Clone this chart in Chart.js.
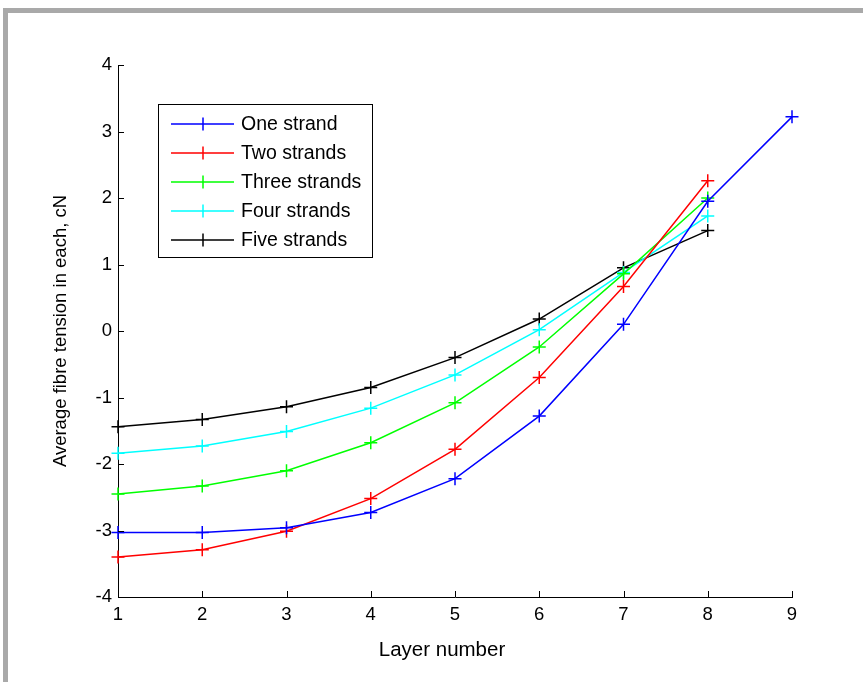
<!DOCTYPE html>
<html>
<head>
<meta charset="utf-8">
<script src="https://cdn.jsdelivr.net/npm/chart.js@4.4.1/dist/chart.umd.min.js"></script>
<style>
  html, body { margin: 0; padding: 0; background: #fff; }
  #frame {
    position: absolute; left: 3px; top: 8px; right: 0; bottom: 0;
    border-top: 5px solid #a9a9a9; border-left: 5px solid #a9a9a9;
  }
  #chart { position: absolute; left: 0; top: 0; }
</style>
</head>
<body>
<div id="frame"></div>
<canvas id="chart" width="863" height="682"></canvas>
<script>
// layer numbers
var layers = [1, 2, 3, 4, 5, 6, 7, 8, 9];

// average fibre tension per layer, cN
var oneStrand = [-3.03, -3.03, -2.96, -2.73, -2.22, -1.28, 0.1, 1.95, 3.22];
var twoStrands = [-3.4, -3.29, -3.01, -2.52, -1.78, -0.7, 0.67, 2.26];
var threeStrands = [-2.45, -2.33, -2.1, -1.68, -1.08, -0.24, 0.86, 2.0];
var fourStrands = [-1.84, -1.73, -1.51, -1.16, -0.66, 0.02, 0.88, 1.73];
var fiveStrands = [-1.44, -1.33, -1.14, -0.85, -0.4, 0.18, 0.95, 1.51];

var seriesNames = ["One strand", "Two strands", "Three strands", "Four strands", "Five strands"];
var seriesColors = ["#0000ff", "#ff0000", "#00ff00", "#00ffff", "#000000"];
var yTicks = [-4, -3, -2, -1, 0, 1, 2, 3, 4];

var FONT = "'Liberation Sans', Arial, sans-serif";

function toPoints(values) {
  return values.map(function (v, i) { return { x: layers[i], y: v }; });
}

var datasets = [oneStrand, twoStrands, threeStrands, fourStrands, fiveStrands].map(function (vals, i) {
  return {
    label: seriesNames[i],
    data: toPoints(vals),
    borderColor: seriesColors[i],
    backgroundColor: seriesColors[i],
    borderWidth: 1.5,
    pointStyle: "cross",
    pointRadius: 6.5,
    pointBorderWidth: 1.5,
    pointHoverRadius: 6.5,
    tension: 0,
    clip: false
  };
});

// inward tick marks on both axes, plus the x axis label
var innerTicks = {
  id: "innerTicks",
  afterDatasetsDraw: function (chart) {
    var ctx = chart.ctx, a = chart.chartArea;
    var xs = chart.scales.x, ys = chart.scales.y;
    ctx.save();
    ctx.strokeStyle = "#000";
    ctx.lineWidth = 1;
    ctx.beginPath();
    layers.forEach(function (v) {
      var px = Math.round(xs.getPixelForValue(v)) + 0.5;
      ctx.moveTo(px, a.bottom);
      ctx.lineTo(px, a.bottom - 6);
    });
    yTicks.forEach(function (v) {
      var py = Math.round(ys.getPixelForValue(v)) + 0.5;
      ctx.moveTo(a.left, py);
      ctx.lineTo(a.left + 6, py);
    });
    ctx.stroke();

    ctx.fillStyle = "#000";
    ctx.font = "20.5px " + FONT;
    ctx.textAlign = "center";
    ctx.textBaseline = "middle";
    ctx.fillText("Layer number", 442, 650);
    ctx.restore();
  }
};

// boxed legend inside the plot, upper left
var boxLegend = {
  id: "boxLegend",
  afterDraw: function (chart) {
    var ctx = chart.ctx;
    var bx = 158.5, by = 104.5, bw = 214, bh = 153;
    ctx.save();
    ctx.fillStyle = "#fff";
    ctx.fillRect(bx, by, bw, bh);
    ctx.strokeStyle = "#000";
    ctx.lineWidth = 1;
    ctx.strokeRect(bx, by, bw, bh);
    ctx.font = "19.5px " + FONT;
    ctx.textBaseline = "middle";
    chart.data.datasets.forEach(function (ds, i) {
      var y = 124 + i * 29;
      ctx.strokeStyle = ds.borderColor;
      ctx.lineWidth = 1.5;
      ctx.beginPath();
      ctx.moveTo(171, y);
      ctx.lineTo(234, y);
      ctx.moveTo(203, y - 6.5);
      ctx.lineTo(203, y + 6.5);
      ctx.stroke();
      ctx.fillStyle = "#000";
      ctx.fillText(ds.label, 241, y + 1);
    });
    ctx.restore();
  }
};

new Chart(document.getElementById("chart").getContext("2d"), {
  type: "line",
  data: { datasets: datasets },
  options: {
    responsive: false,
    animation: false,
    layout: { padding: { left: 0, top: 65, right: 71, bottom: 0 } },
    plugins: {
      legend: { display: false },
      tooltip: { enabled: false }
    },
    scales: {
      x: {
        type: "linear",
        min: 1,
        max: 9,
        afterBuildTicks: function (scale) {
          scale.ticks = layers.map(function (v) { return { value: v }; });
        },
        afterFit: function (scale) { scale.height = 682 - 597; },
        grid: { display: true, drawOnChartArea: false, drawTicks: false },
        border: { display: true, color: "#000", width: 1 },
        ticks: { color: "#000", padding: 7, maxRotation: 0, font: { family: FONT, size: 18.5 } }
      },
      y: {
        min: -4,
        max: 4,
        afterBuildTicks: function (scale) {
          scale.ticks = yTicks.map(function (v) { return { value: v }; });
        },
        afterFit: function (scale) { scale.width = 118; },
        grid: { display: true, drawOnChartArea: false, drawTicks: false },
        border: { display: true, color: "#000", width: 1 },
        ticks: { color: "#000", padding: 6, font: { family: FONT, size: 18.5 } },
        title: {
          display: true,
          text: "Average fibre tension in each, cN",
          color: "#000",
          font: { family: FONT, size: 18.5 },
          padding: { top: 50, bottom: 0 }
        }
      }
    }
  },
  plugins: [innerTicks, boxLegend]
});
</script>
</body>
</html>
